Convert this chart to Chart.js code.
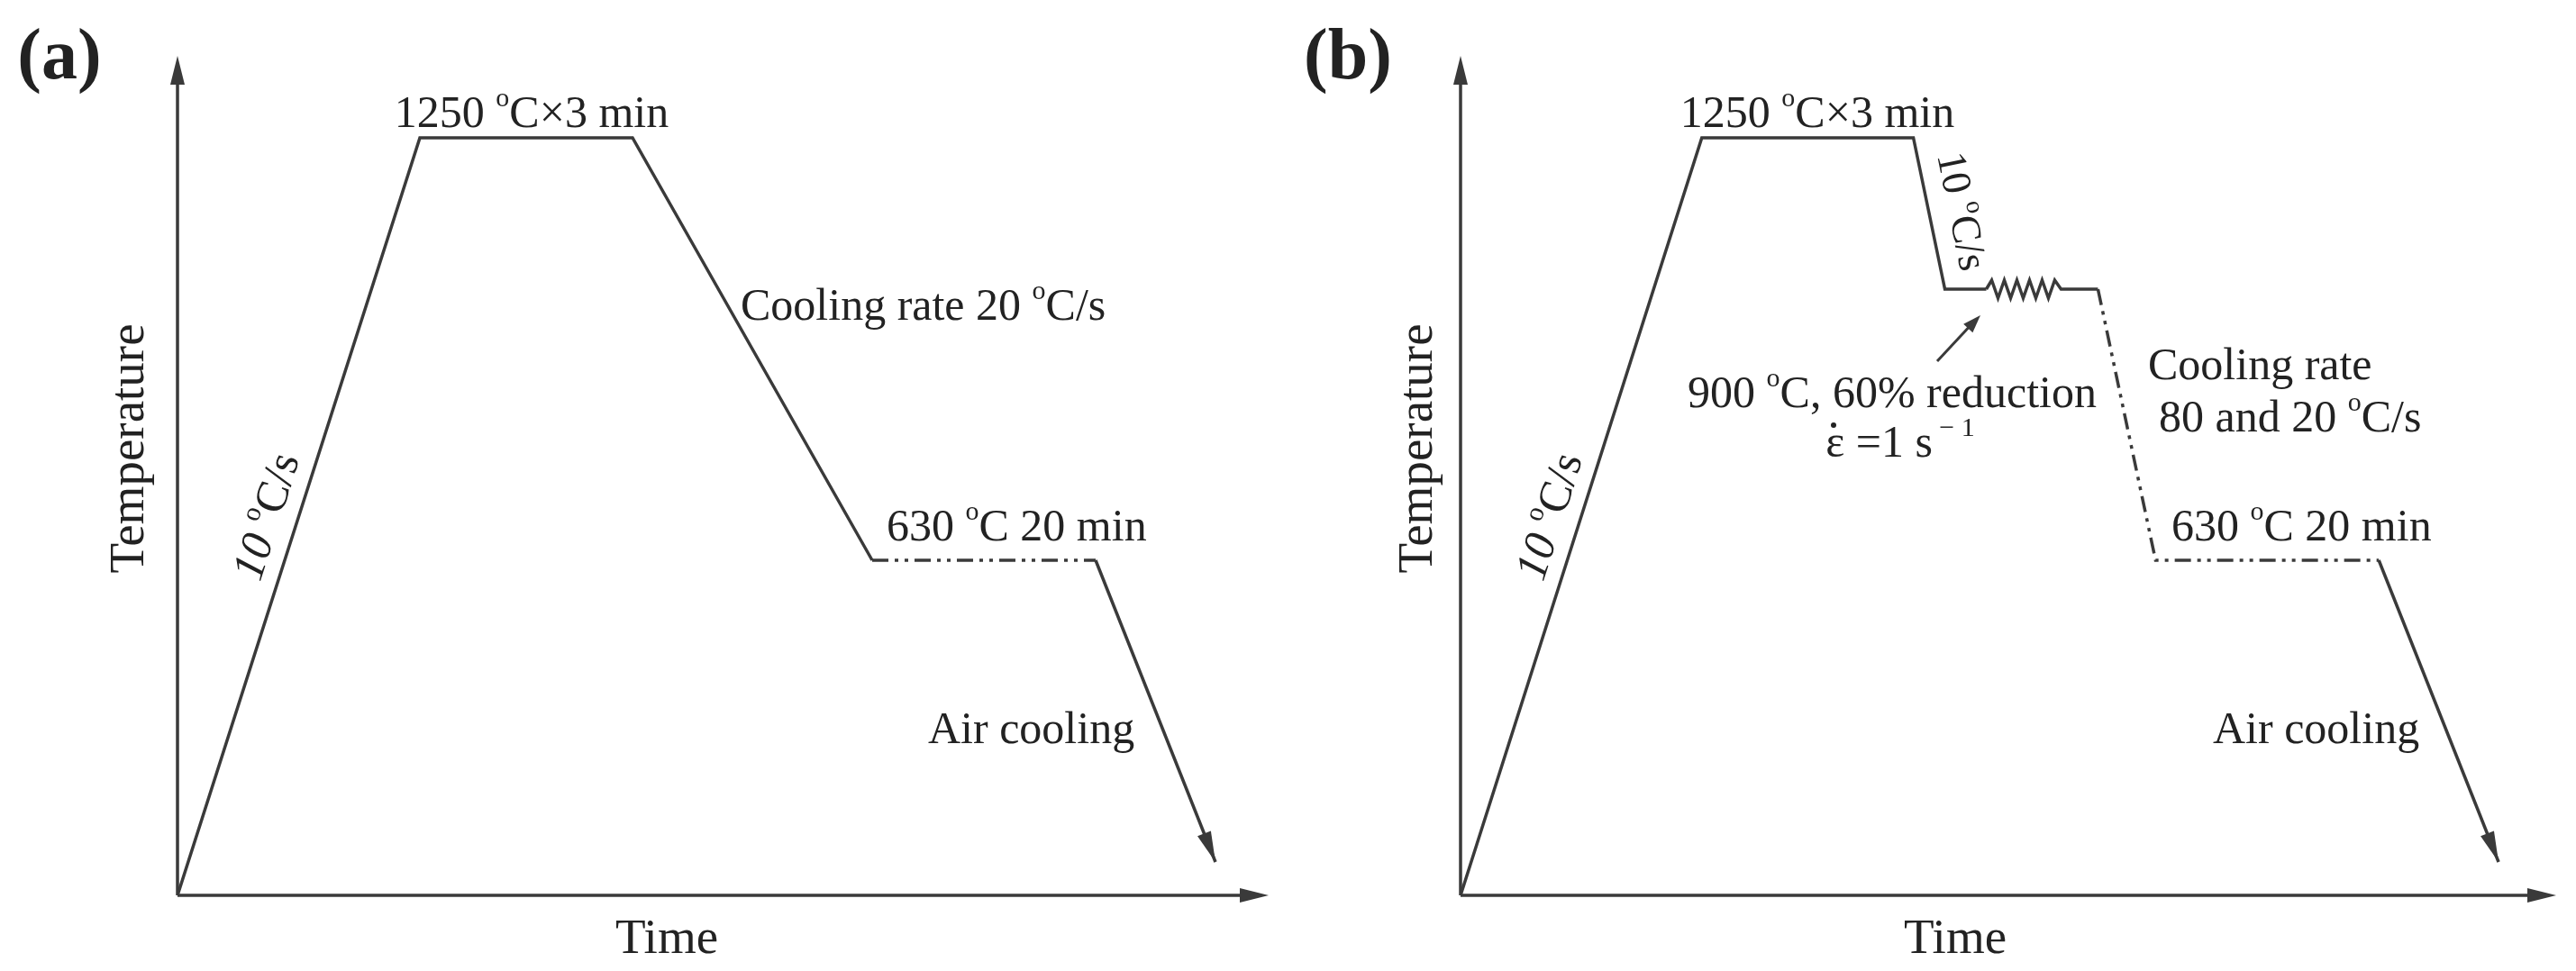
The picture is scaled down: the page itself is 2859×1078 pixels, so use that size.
<!DOCTYPE html>
<html>
<head>
<meta charset="utf-8">
<script src="https://cdn.jsdelivr.net/npm/chart.js@4.4.0/dist/chart.umd.min.js"></script>
<style>
  body { margin: 0; background: #fff; }
  .wrap { display: flex; width: 2859px; height: 1078px; }
  canvas { display: block; }
</style>
</head>
<body>
<div class="wrap">
  <canvas id="chartA" width="1430" height="1078"></canvas>
  <canvas id="chartB" width="1429" height="1078"></canvas>
</div>
<script>
// 示意图数据（时间与温度均为示意单位）
// (a) 实线部分：升温、保温、冷却
const aSolidX = [0, 269, 505, 771];
const aSolidY = [0, 841, 841, 372];
// (a) 等温段（点划线）
const aDashX = [771, 1019];
const aDashY = [372, 372];
// (a) 空冷
const aAirX = [1019, 1152];
const aAirY = [372, 37];

// (b) 升温、保温、冷却到900
const bSolidX = [0, 268, 503, 538, 584];
const bSolidY = [0, 841, 841, 673, 673];
// (b) 变形（弹簧）
const bSpringX = [584, 590, 597, 604, 611, 618, 625, 632, 639, 646, 653, 660, 667, 708];
const bSpringY = [673, 683, 663, 683, 663, 683, 663, 683, 663, 683, 663, 683, 673, 673];
// (b) 冷却和等温（点划线）
const bDashX = [708, 772, 1020];
const bDashY = [673, 372, 372];
// (b) 空冷
const bAirX = [1020, 1153];
const bAirY = [372, 37];

const axisMaxA = [1211, 932];
const axisMaxB = [1217, 932];

const INK = '#3a3a3a';
const SERIF = '"Liberation Serif", "DejaVu Serif", serif';
const FS = 50;

function pts(xs, ys) {
    return xs.map((x, i) => ({ x: x, y: ys[i] }));
}

function lineSet(xs, ys, dash) {
    return {
        data: pts(xs, ys),
        showLine: true,
        borderColor: INK,
        borderWidth: 3.5,
        borderDash: dash || [],
        pointRadius: 0,
        tension: 0
    };
}

function arrowHead(ctx, x1, y1, x2, y2, len, half) {
    const a = Math.atan2(y2 - y1, x2 - x1);
    ctx.beginPath();
    ctx.moveTo(x2, y2);
    ctx.lineTo(x2 - len * Math.cos(a) + half * Math.sin(a), y2 - len * Math.sin(a) - half * Math.cos(a));
    ctx.lineTo(x2 - len * Math.cos(a) - half * Math.sin(a), y2 - len * Math.sin(a) + half * Math.cos(a));
    ctx.closePath();
    ctx.fill();
}

// 富文本：[文本, 样式] 样式 n=正常 i=斜体 s=上标 b=粗体
function rich(ctx, parts, x, y, size, align) {
    const fontOf = (st) => {
        if (st === 'i') return 'italic ' + size + 'px ' + SERIF;
        if (st === 'b') return 'bold ' + size + 'px ' + SERIF;
        if (st === 's') return Math.round(size * 0.6) + 'px ' + SERIF;
        return size + 'px ' + SERIF;
    };
    let total = 0;
    parts.forEach(p => { ctx.font = fontOf(p[1]); total += ctx.measureText(p[0]).width; });
    let cx = align === 'center' ? x - total / 2 : x;
    ctx.textBaseline = 'middle';
    ctx.textAlign = 'left';
    parts.forEach(p => {
        ctx.font = fontOf(p[1]);
        const dy = p[1] === 's' ? -size * 0.35 : 0;
        ctx.fillText(p[0], cx, y + dy);
        cx += ctx.measureText(p[0]).width;
    });
}

function axesPlugin(airX, airY) {
    return {
        id: 'axes',
        afterDatasetsDraw(chart) {
            const ctx = chart.ctx;
            const xs = chart.scales.x, ys = chart.scales.y;
            const ox = xs.getPixelForValue(0), oy = ys.getPixelForValue(0);
            const tx = xs.getPixelForValue(xs.max), ty = ys.getPixelForValue(ys.max);
            ctx.save();
            ctx.strokeStyle = INK;
            ctx.fillStyle = INK;
            ctx.lineWidth = 3.5;
            ctx.beginPath();
            ctx.moveTo(ox, oy); ctx.lineTo(ox, ty + 20);
            ctx.moveTo(ox, oy); ctx.lineTo(tx - 20, oy);
            ctx.stroke();
            arrowHead(ctx, ox, oy, ox, ty, 32, 8);
            arrowHead(ctx, ox, oy, tx, oy, 32, 8);
            // 空冷箭头
            const n = airX.length - 1;
            arrowHead(ctx,
                xs.getPixelForValue(airX[n - 1]), ys.getPixelForValue(airY[n - 1]),
                xs.getPixelForValue(airX[n]), ys.getPixelForValue(airY[n]), 34, 8);
            ctx.restore();
        }
    };
}

function labelsPlugin(draw) {
    return {
        id: 'labels',
        afterDraw(chart) {
            const ctx = chart.ctx;
            ctx.save();
            ctx.fillStyle = '#222';
            draw(ctx, chart);
            ctx.restore();
        }
    };
}

function commonLabels(ctx, tag, rampX, rampY) {
    rich(ctx, [[tag, 'b']], 66, 66, 80, 'center');
    rich(ctx, [['Time', 'n']], 740, 1044, 55, 'center');
    ctx.save();
    ctx.translate(145, 498);
    ctx.rotate(-Math.PI / 2);
    rich(ctx, [['Temperature', 'n']], 0, 0, 55, 'center');
    ctx.restore();
    ctx.save();
    ctx.translate(rampX, rampY);
    ctx.rotate(-72.3 * Math.PI / 180);
    rich(ctx, [['10 ', 'i'], ['o', 's'], ['C/s', 'n']], 0, 0, FS, 'center');
    ctx.restore();
}

function makeChart(id, datasets, maxes, plugins) {
    return new Chart(document.getElementById(id), {
        type: 'scatter',
        data: { datasets: datasets },
        options: {
            responsive: false,
            animation: false,
            devicePixelRatio: 1,
            layout: { padding: { left: id === 'chartA' ? 197 : 191, right: 22, top: 62, bottom: 84 } },
            plugins: { legend: { display: false }, tooltip: { enabled: false } },
            scales: {
                x: { type: 'linear', min: 0, max: maxes[0], display: false },
                y: { type: 'linear', min: 0, max: maxes[1], display: false }
            }
        },
        plugins: plugins
    });
}

const dashDot = [18, 7, 4, 7, 4, 7];

makeChart('chartA', [
    lineSet(aSolidX, aSolidY),
    lineSet(aDashX, aDashY, dashDot),
    lineSet(aAirX, aAirY)
], axisMaxA, [axesPlugin(aAirX, aAirY), labelsPlugin(ctx => {
    commonLabels(ctx, '(a)', 298, 574);
    rich(ctx, [['1250 ', 'n'], ['o', 's'], ['C\u00d73 min', 'n']], 590, 128, FS, 'center');
    rich(ctx, [['Cooling rate 20 ', 'n'], ['o', 's'], ['C/s', 'n']], 822, 342, FS, 'left');
    rich(ctx, [['630 ', 'n'], ['o', 's'], ['C 20 min', 'n']], 984, 587, FS, 'left');
    rich(ctx, [['Air cooling', 'n']], 1030, 812, FS, 'left');
})]);

makeChart('chartB', [
    lineSet(bSolidX, bSolidY),
    lineSet(bSpringX, bSpringY),
    lineSet(bDashX, bDashY, dashDot),
    lineSet(bAirX, bAirY)
], axisMaxB, [axesPlugin(bAirX, bAirY), labelsPlugin(ctx => {
    commonLabels(ctx, '(b)', 292, 574);
    rich(ctx, [['1250 ', 'n'], ['o', 's'], ['C\u00d73 min', 'n']], 587, 128, FS, 'center');
    ctx.save();
    ctx.translate(745, 235);
    ctx.rotate(Math.PI / 2 - 0.2);
    rich(ctx, [['10 ', 'n'], ['o', 's'], ['C/s', 'n']], 0, 0, 46, 'center');
    ctx.restore();
    rich(ctx, [['900 ', 'n'], ['o', 's'], ['C, 60% reduction', 'n']], 670, 439, FS, 'center');
    rich(ctx, [['\u03b5', 'n'], [' =1 s', 'n'], [' \u2212 1', 's']], 679, 494, FS, 'center');
    // ε 上的点
    ctx.beginPath(); ctx.arc(605, 472, 3, 0, Math.PI * 2); ctx.fill();
    // 变形指示箭头
    ctx.strokeStyle = INK; ctx.fillStyle = INK; ctx.lineWidth = 3;
    ctx.beginPath(); ctx.moveTo(720, 401); ctx.lineTo(760, 358); ctx.stroke();
    arrowHead(ctx, 720, 401, 768, 350, 20, 7);
    ctx.fillStyle = '#222';
    rich(ctx, [['Cooling rate', 'n']], 954, 408, FS, 'left');
    rich(ctx, [['80 and 20 ', 'n'], ['o', 's'], ['C/s', 'n']], 966, 466, FS, 'left');
    rich(ctx, [['630 ', 'n'], ['o', 's'], ['C 20 min', 'n']], 980, 587, FS, 'left');
    rich(ctx, [['Air cooling', 'n']], 1026, 812, FS, 'left');
})]);
</script>
</body>
</html>
